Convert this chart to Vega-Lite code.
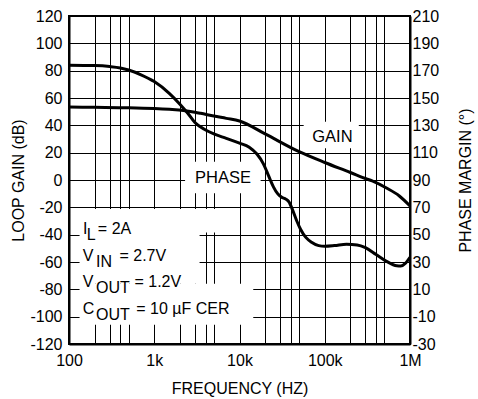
{
  "$schema": "https://vega.github.io/schema/vega-lite/v6.json",
  "width": 341,
  "height": 328,
  "autosize": {"type": "none"},
  "padding": {"left": 69, "top": 16, "right": 68, "bottom": 55},
  "background": "white",
  "config": {
    "view": {"stroke": "black", "strokeWidth": 2},
    "axis": {
      "labelFont": "Liberation Sans", "titleFont": "Liberation Sans",
      "labelFontSize": 16, "titleFontSize": 16,
      "labelColor": "black", "titleColor": "black", "titleFontWeight": "normal",
      "gridColor": "black", "gridOpacity": 1, "gridWidth": 1,
      "ticks": false, "domainColor": "black", "domainWidth": 2,
      "labelFlush": false, "labelOverlap": false, "labelBound": false
    },
    "text": {"font": "Liberation Sans", "fontSize": 16, "color": "black"}
  },
  "datasets": {
    "gain": [
      {"f": 100, "d": 53.4}, {"f": 200, "d": 53.2}, {"f": 500, "d": 52.9}, {"f": 1000, "d": 52.3},
      {"f": 1500, "d": 51.7}, {"f": 2200, "d": 50.9}, {"f": 3000, "d": 49.6}, {"f": 3500, "d": 48.8},
      {"f": 5000, "d": 46.8}, {"f": 7000, "d": 45.1}, {"f": 10000, "d": 43.2}, {"f": 20000, "d": 33.7},
      {"f": 50000, "d": 20.7}, {"f": 100000, "d": 12.8}, {"f": 200000, "d": 5.5}, {"f": 300000, "d": 1.1},
      {"f": 360000, "d": -0.7}, {"f": 530000, "d": -5.9}, {"f": 750000, "d": -11.7}, {"f": 1000000, "d": -19}
    ],
    "phase": [
      {"f": 100, "p": 174}, {"f": 200, "p": 173.7}, {"f": 300, "p": 173}, {"f": 400, "p": 172},
      {"f": 500, "p": 170.5}, {"f": 700, "p": 167}, {"f": 1000, "p": 162}, {"f": 1500, "p": 153.4},
      {"f": 2000, "p": 145.5}, {"f": 2500, "p": 138.5}, {"f": 3000, "p": 132}, {"f": 4000, "p": 126.6},
      {"f": 5000, "p": 123.7}, {"f": 7000, "p": 120.5}, {"f": 10000, "p": 117}, {"f": 13000, "p": 114},
      {"f": 16000, "p": 109}, {"f": 19000, "p": 102}, {"f": 21000, "p": 96}, {"f": 23000, "p": 90},
      {"f": 25000, "p": 85}, {"f": 28000, "p": 80}, {"f": 31000, "p": 77.5}, {"f": 35000, "p": 76},
      {"f": 38000, "p": 74}, {"f": 42000, "p": 68}, {"f": 47000, "p": 60}, {"f": 52000, "p": 54},
      {"f": 60000, "p": 48}, {"f": 70000, "p": 44.5}, {"f": 85000, "p": 42}, {"f": 100000, "p": 41.5},
      {"f": 130000, "p": 42}, {"f": 180000, "p": 43}, {"f": 240000, "p": 42.5}, {"f": 300000, "p": 40.5},
      {"f": 400000, "p": 35.5}, {"f": 530000, "p": 30.5}, {"f": 700000, "p": 27.2}, {"f": 780000, "p": 27},
      {"f": 880000, "p": 29}, {"f": 1000000, "p": 33.5}
    ],
    "boxes": [
      {"f": 2300, "f2": 17700, "d": -9.7, "d2": 13.4},
      {"f": 56600, "f2": 251000, "d": 23.2, "d2": 42.7},
      {"f": 133, "f2": 6000, "d": -38.5, "d2": -21.2},
      {"f": 133, "f2": 3400, "d": -76, "d2": -21.2},
      {"f": 133, "f2": 14500, "d": -106, "d2": -76}
    ],
    "centerLabels": [
      {"t": "PHASE", "f": 6400, "d": -2.4},
      {"t": "GAIN", "f": 123000, "d": 28}
    ],
    "notes": [
      {"t": "I", "f": 146, "d": -39.5}, {"t": "L", "f": 161, "d": -43.9}, {"t": "= 2A", "f": 218, "d": -39.5},
      {"t": "V", "f": 145, "d": -59}, {"t": "IN", "f": 207, "d": -63.4}, {"t": "= 2.7V", "f": 391, "d": -59},
      {"t": "V", "f": 145, "d": -78.5}, {"t": "OUT", "f": 207, "d": -82.9}, {"t": "= 1.2V", "f": 586, "d": -78.5},
      {"t": "C", "f": 145, "d": -98}, {"t": "OUT", "f": 207, "d": -102.4}, {"t": "= 10 µF CER", "f": 614, "d": -98}
    ]
  },
  "encoding": {
    "x": {
      "field": "f", "type": "quantitative",
      "scale": {"type": "log", "domain": [100, 1000000]},
      "axis": {
        "title": "FREQUENCY (HZ)",
        "values": [100, 200, 300, 400, 500, 1000, 2000, 3000, 4000, 5000, 10000, 20000, 30000, 40000, 50000, 100000, 200000, 300000, 400000, 500000, 1000000],
        "labelExpr": "datum.value == 100 ? '100' : datum.value == 1000 ? '1k' : datum.value == 10000 ? '10k' : datum.value == 100000 ? '100k' : datum.value == 1000000 ? '1M' : ''",
        "grid": true, "labelPadding": 8, "titlePadding": 12
      }
    }
  },
  "layer": [
    {
      "encoding": {
        "y": {
          "field": "d", "type": "quantitative",
          "scale": {"domain": [-120, 120], "nice": false, "zero": false},
          "axis": {
            "title": "LOOP GAIN (dB)",
            "values": [-120, -100, -80, -60, -40, -20, 0, 20, 40, 60, 80, 100, 120],
            "labelExpr": "'' + datum.value",
            "grid": true, "labelPadding": 7, "titlePadding": 3
          }
        }
      },
      "layer": [
        {
          "data": {"name": "boxes"},
          "mark": {"type": "rect", "fill": "white", "stroke": null},
          "encoding": {
            "x2": {"field": "f2"},
            "y2": {"field": "d2"}
          }
        },
        {
          "data": {"name": "gain"},
          "mark": {"type": "line", "color": "black", "strokeWidth": 3, "interpolate": "monotone"},
          "encoding": {}
        },
        {
          "data": {"name": "centerLabels"},
          "mark": {"type": "text", "align": "center", "baseline": "alphabetic", "fontSize": 16.5},
          "encoding": {"text": {"field": "t"}}
        },
        {
          "data": {"name": "notes"},
          "mark": {"type": "text", "align": "left", "baseline": "alphabetic", "fontSize": 16},
          "encoding": {"text": {"field": "t"}}
        }
      ]
    },
    {
      "data": {"name": "phase"},
      "mark": {"type": "line", "color": "black", "strokeWidth": 3, "interpolate": "monotone"},
      "encoding": {
        "y": {
          "field": "p", "type": "quantitative",
          "scale": {"domain": [-30, 210], "nice": false, "zero": false},
          "axis": {
            "orient": "right",
            "title": "PHASE MARGIN (°)",
            "values": [-30, -10, 10, 30, 50, 70, 90, 110, 130, 150, 170, 190, 210],
            "labelExpr": "'' + datum.value",
            "grid": false, "labelPadding": 2,
            "titleAngle": 270, "titleX": 55, "titleY": 164,
            "titleAlign": "center", "titleBaseline": "middle"
          }
        }
      }
    }
  ],
  "resolve": {"scale": {"y": "independent"}}
}
